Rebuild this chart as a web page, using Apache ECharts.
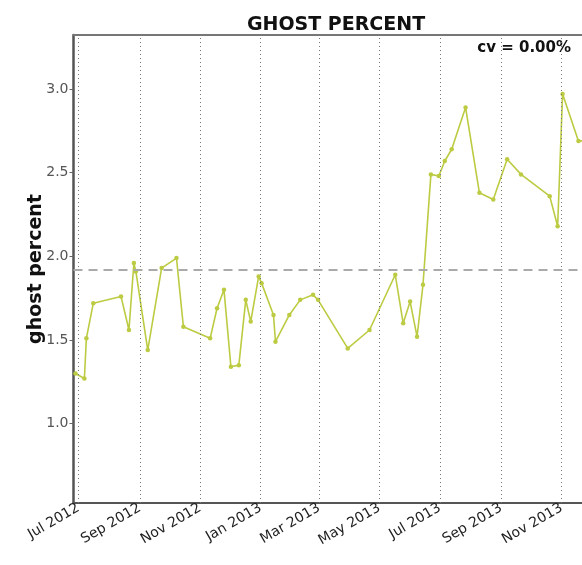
<!DOCTYPE html>
<html>
<head>
<meta charset="utf-8">
<script src="https://cdn.jsdelivr.net/npm/echarts@6/dist/echarts.min.js"></script>
<style>
  html, body { margin: 0; padding: 0; background: #fff; }
  #main { width: 582px; height: 565px; }
</style>
</head>
<body>
<div id="main"></div>
<script>
// sample dates and ghost percent values
var dates = [
  '2012-06-28', '2012-07-07', '2012-07-09', '2012-07-16', '2012-08-13', '2012-08-21',
  '2012-08-26', '2012-08-28', '2012-09-09', '2012-09-23', '2012-10-08', '2012-10-15',
  '2012-11-11', '2012-11-18', '2012-11-25', '2012-12-02', '2012-12-10', '2012-12-17',
  '2012-12-22', '2012-12-30', '2013-01-02', '2013-01-14', '2013-01-16', '2013-01-30',
  '2013-02-10', '2013-02-23', '2013-02-28', '2013-03-30', '2013-04-21', '2013-05-17',
  '2013-05-25', '2013-06-01', '2013-06-08', '2013-06-14', '2013-06-22', '2013-06-30',
  '2013-07-06', '2013-07-13', '2013-07-27', '2013-08-10', '2013-08-24', '2013-09-07',
  '2013-09-21', '2013-10-20', '2013-10-28', '2013-11-02', '2013-11-18', '2013-11-28'
];
var ghost = [
  1.30, 1.27, 1.51, 1.72, 1.76, 1.56,
  1.96, 1.91, 1.44, 1.93, 1.99, 1.58,
  1.51, 1.69, 1.80, 1.34, 1.35, 1.74,
  1.61, 1.88, 1.84, 1.65, 1.49, 1.65,
  1.74, 1.77, 1.74, 1.45, 1.56, 1.89,
  1.60, 1.73, 1.52, 1.83, 2.49, 2.48,
  2.57, 2.64, 2.89, 2.38, 2.34, 2.58,
  2.49, 2.36, 2.18, 2.97, 2.69, 2.69
];
var monthTicks = [
  '2012-07-01', '2012-09-01', '2012-11-01', '2013-01-01', '2013-03-01',
  '2013-05-01', '2013-07-01', '2013-09-01', '2013-11-01', '2014-01-01'
];
var yTicks = [1.0, 1.5, 2.0, 2.5, 3.0];
var meanValue = 1.92;
var cvText = 'cv = 0.00%';

var monthNames = ['Jan', 'Feb', 'Mar', 'Apr', 'May', 'Jun', 'Jul', 'Aug', 'Sep', 'Oct', 'Nov', 'Dec'];
var font = '"DejaVu Sans", sans-serif';

function ts(d) { return Date.parse(d + 'T00:00:00Z'); }

var tickTimes = monthTicks.map(ts);
var xMin = ts('2012-06-26');
var xMax = ts('2013-12-31');

var chart = echarts.init(document.getElementById('main'));

// dotted month gridlines + dashed mean line
var gridLines = tickTimes.map(function (t) {
  return { xAxis: t, lineStyle: { type: [1, 3], color: '#777', width: 1 } };
});
gridLines.push({ yAxis: meanValue, lineStyle: { type: [9, 6], color: '#aaa', width: 2 } });

chart.setOption({
  animation: false,
  title: {
    text: 'GHOST PERCENT',
    left: 331,
    top: 11,
    textAlign: 'center',
    textStyle: { fontFamily: font, fontSize: 19, fontWeight: 'bold', color: '#111' }
  },
  grid: {
    left: 73.5,
    top: 35,
    width: 547.5,   // runs past the right edge, the reference is cropped there
    height: 468,
    outerBoundsMode: 'none',
    containLabel: false
  },
  xAxis: [{
    type: 'value',
    min: xMin,
    max: xMax,
    axisLine: { show: true, lineStyle: { color: '#555', width: 2 } },
    axisTick: { show: false },
    splitLine: { show: false },
    axisLabel: {
      customValues: tickTimes,
      rotate: 30,
      margin: 4,
      fontFamily: font,
      fontSize: 14,
      color: '#222',
      formatter: function (v) {
        var d = new Date(v);
        return monthNames[d.getUTCMonth()] + ' ' + d.getUTCFullYear();
      }
    }
  }, {
    type: 'value',
    position: 'top',
    min: xMin,
    max: xMax,
    axisLine: { show: true, lineStyle: { color: '#777', width: 2 } },
    axisTick: { show: false },
    axisLabel: { show: false },
    splitLine: { show: false }
  }],
  yAxis: {
    type: 'value',
    min: 0.526,
    max: 3.323,
    name: 'ghost percent',
    nameLocation: 'middle',
    nameGap: 28,
    nameMoveOverlap: false,
    nameTextStyle: { fontFamily: font, fontSize: 19, fontWeight: 'bold', color: '#111' },
    axisLine: { show: true, lineStyle: { color: '#555', width: 2.5 } },
    axisTick: { show: true, customValues: yTicks, length: 4, lineStyle: { color: '#666' } },
    splitLine: { show: false },
    axisLabel: {
      customValues: yTicks,
      margin: 5,
      fontFamily: font,
      fontSize: 14,
      color: '#555',
      formatter: function (v) { return v.toFixed(1); }
    }
  },
  graphic: [{
    type: 'text',
    right: 11,
    top: 41,
    style: { text: cvText, fontFamily: font, fontSize: 15, fontWeight: 'bold', fill: '#111' }
  }],
  series: [{
    type: 'line',
    xAxisIndex: 0,
    data: dates.map(function (d, i) { return [ts(d), ghost[i]]; }),
    symbol: 'circle',
    symbolSize: 4.5,
    itemStyle: { color: '#bccb42' },
    lineStyle: { color: '#bccb42', width: 1.6 },
    markLine: {
      silent: true,
      symbol: 'none',
      label: { show: false },
      data: gridLines
    }
  }]
});
</script>
</body>
</html>
